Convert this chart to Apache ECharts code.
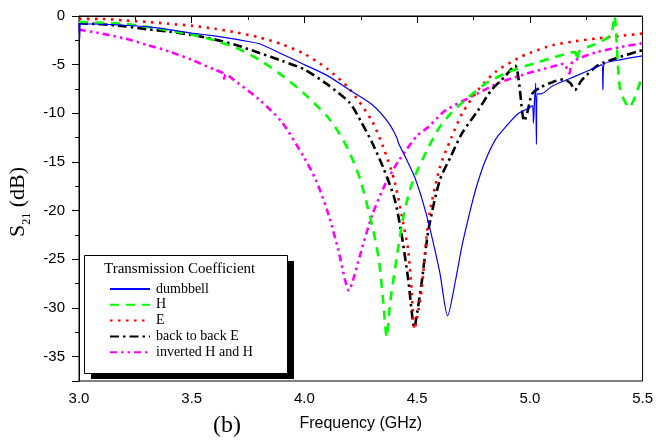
<!DOCTYPE html>
<html><head><meta charset="utf-8">
<script src="https://cdn.jsdelivr.net/npm/echarts@6/dist/echarts.min.js"></script>
<style>html,body{margin:0;padding:0;background:#fff}#c{width:656px;height:440px}</style>
</head><body><div id="c"></div>
<script>
const seriesNames = ['dumbbell', 'H', 'E', 'back to back E', 'inverted H and H'];
const xTicks = [3.0, 3.5, 4.0, 4.5, 5.0, 5.5];

const dumbbellF = [3.0,3.003,3.006,3.1,3.2,3.3,3.4,3.5,3.6,3.7,3.72,3.8,3.9,4.0,4.1,4.2,4.3,4.374,4.41,4.418,4.45,4.49,4.54,4.6,4.635,4.67,4.7,4.73,4.76,4.8,4.85,4.9,4.95,5.0,5.012,5.016,5.02,5.026,5.029,5.033,5.05,5.1,5.2,5.3,5.32,5.324,5.328,5.4,5.5];
const dumbbellDB = [-0.75,-2.4,-0.8,-0.85,-0.95,-1.1,-1.4,-1.75,-2.05,-2.4,-2.5,-2.85,-3.9,-5.0,-6.1,-7.6,-9.1,-11.0,-12.5,-13.1,-14.6,-16.6,-20.3,-26.3,-30.8,-27.2,-23.5,-20.5,-17.8,-15.0,-12.6,-11.2,-10.0,-9.4,-9.2,-11.0,-9.0,-6.9,-13.2,-8.0,-8.0,-7.2,-6.2,-5.2,-5.0,-7.6,-5.0,-4.5,-4.1];

const hF = [3.0,3.1,3.2,3.3,3.4,3.5,3.6,3.7,3.8,3.9,4.0,4.1,4.15,4.2,4.25,4.3,4.33,4.35,4.365,4.38,4.41,4.44,4.48,4.55,4.6,4.65,4.7,4.8,4.9,5.0,5.1,5.2,5.21,5.22,5.3,5.36,5.375,5.4,5.44,5.5];
const hDB = [-0.6,-0.7,-0.8,-1.1,-1.5,-1.9,-2.5,-3.3,-4.5,-6.1,-8.0,-10.3,-11.9,-14.0,-17.0,-21.5,-25.0,-29.5,-33.0,-29.5,-24.7,-20.5,-17.0,-13.5,-11.4,-10.0,-8.9,-7.0,-5.8,-5.0,-4.3,-3.7,-4.6,-3.6,-2.8,-1.9,0,-7.5,-9.4,-6.0];

const eF = [3.0,3.1,3.2,3.3,3.4,3.5,3.6,3.7,3.8,3.9,4.0,4.1,4.2,4.3,4.35,4.4,4.44,4.46,4.475,4.488,4.5,4.52,4.55,4.6,4.65,4.7,4.77,4.85,4.95,5.0,5.1,5.2,5.3,5.4,5.5];
const eDB = [-0.3,-0.3,-0.45,-0.6,-0.8,-1.0,-1.3,-1.7,-2.2,-2.9,-3.9,-5.4,-7.5,-10.8,-13.5,-17.0,-21.5,-24.0,-28.0,-32.2,-31.0,-28.1,-21.0,-15.6,-12.6,-10.0,-7.6,-5.7,-4.3,-3.8,-3.0,-2.6,-2.3,-2.05,-1.8];

const b2bF = [3.0,3.1,3.2,3.3,3.4,3.5,3.6,3.7,3.8,3.9,4.0,4.1,4.2,4.25,4.3,4.35,4.4,4.43,4.46,4.488,4.5,4.52,4.55,4.6,4.65,4.7,4.77,4.83,4.89,4.935,4.95,4.975,4.99,5.01,5.05,5.1,5.15,5.18,5.2,5.23,5.3,5.4,5.5];
const b2bDB = [-0.75,-0.85,-1.05,-1.35,-1.6,-1.95,-2.4,-3.0,-3.8,-4.6,-5.5,-7.0,-8.9,-10.8,-13.0,-15.6,-18.8,-22.3,-27.0,-32.0,-30.5,-27.4,-22.0,-16.9,-14.4,-12.0,-9.7,-7.6,-6.2,-5.1,-6.5,-10.8,-9.8,-8.0,-7.3,-6.8,-6.5,-6.9,-7.6,-6.6,-5.1,-4.2,-3.5];

const invF = [3.0,3.1,3.2,3.3,3.4,3.5,3.6,3.64,3.645,3.65,3.7,3.8,3.9,4.0,4.05,4.1,4.15,4.18,4.197,4.22,4.25,4.3,4.36,4.42,4.5,4.55,4.625,4.74,4.86,4.96,5.02,5.1,5.15,5.175,5.19,5.3,5.4,5.5];
const invDB = [-1.4,-1.8,-2.3,-2.95,-3.65,-4.5,-5.5,-5.9,-6.6,-6.0,-6.8,-8.6,-10.9,-14.6,-16.8,-19.9,-24.0,-27.1,-28.2,-26.8,-24.3,-20.5,-17.2,-14.8,-12.3,-11.4,-9.7,-8.3,-6.9,-6.1,-5.7,-5.2,-4.9,-5.9,-4.7,-3.7,-3.2,-2.8];

const pairs = (f, d) => f.map((x, i) => [x, d[i]]);
const colors = ['#0000ff', '#00ff00', '#ff0000', '#000000', '#ff00ff'];
const styles = [
  {width: 1.2, type: 'solid'},
  {width: 2.6, type: [9, 7]},
  {width: 2.6, type: [2.5, 5.5]},
  {width: 2.6, type: [9, 4, 2.5, 4]},
  {width: 2.6, type: [7, 4, 2.5, 4, 2.5, 4]}
];
const dataSets = [pairs(dumbbellF, dumbbellDB), pairs(hF, hDB), pairs(eF, eDB), pairs(b2bF, b2bDB), pairs(invF, invDB)];

const chart = echarts.init(document.getElementById('c'), null, {renderer: 'canvas'});
const sans = 'Liberation Sans, Arial, sans-serif';
const serif = 'Liberation Serif, Times New Roman, serif';

chart.setOption({
  animation: false,
  grid: {left: 79, right: 11, top: 16, bottom: 59, show: true, borderColor: '#000', borderWidth: 1, backgroundColor: 'transparent'},
  xAxis: {
    type: 'value', min: 3.0, max: 5.5, interval: 0.5,
    axisLine: {show: true, lineStyle: {color: '#000', width: 1}},
    axisTick: {show: true, length: 7, lineStyle: {color: '#000'}},
    minorTick: {show: true, splitNumber: 2, length: 4, lineStyle: {color: '#000'}},
    splitLine: {show: false},
    axisLabel: {color: '#000', fontFamily: sans, fontSize: 15, margin: 10, formatter: v => v.toFixed(1)},
    name: 'Frequency (GHz)', nameLocation: 'middle', nameGap: 35,
    nameTextStyle: {color: '#000', fontFamily: sans, fontSize: 16}
  },
  yAxis: [{
    type: 'value', min: -37.5, max: 0, interval: 2.5,
    axisLine: {show: true, lineStyle: {color: '#000', width: 1}},
    axisTick: {show: true, length: 4, lineStyle: {color: '#000'}},
    splitLine: {show: false},
    axisLabel: {show: false}
  }, {
    type: 'value', min: 0, max: 37.5, interval: 5, inverse: true, position: 'left', offset: 0,
    axisLine: {show: false},
    axisTick: {show: true, length: 7, lineStyle: {color: '#000'}},
    splitLine: {show: false},
    axisLabel: {color: '#000', fontFamily: sans, fontSize: 15, margin: 14,
      formatter: v => v > 36 ? '' : (v === 0 ? '0' : '-' + v)}
  }],
  legend: {
    orient: 'vertical', left: 104, top: 277, itemWidth: 40, itemHeight: 10, itemGap: 1.8,
    data: seriesNames, z: 20,
    itemStyle: {opacity: 0},
    textStyle: {fontFamily: serif, fontSize: 14, lineHeight: 14, color: '#000', padding: [0, 0, 0, 1]},
    selectedMode: false
  },
  graphic: [
    {type: 'rect', z: 10, shape: {x: 91, y: 261, width: 203, height: 118}, style: {fill: '#000'}},
    {type: 'rect', z: 11, shape: {x: 84.5, y: 255.5, width: 203, height: 118}, style: {fill: '#fff', stroke: '#000', lineWidth: 1}},
    {type: 'text', z: 12, left: 104, top: 262, style: {text: 'Transmission Coefficient', font: '15px ' + serif, fill: '#000'}},
    {type: 'text', z: 12, x: 18, y: 202, rotation: Math.PI / 2,
      style: {text: '{s|S}{sub|21}{s| (dB)}', align: 'center', verticalAlign: 'middle',
        rich: {s: {fontFamily: serif, fontSize: 22, lineHeight: 30, fill: '#000'},
               sub: {fontFamily: serif, fontSize: 12, lineHeight: 30, verticalAlign: 'bottom', fill: '#000'}}}},
    {type: 'text', z: 12, x: 227, y: 426, style: {text: '(b)', font: '24px ' + serif, fill: '#000', align: 'center', verticalAlign: 'middle'}}
  ],
  series: dataSets.map((d, i) => ({
    name: seriesNames[i], type: 'line', data: d, yAxisIndex: 0,
    symbol: 'none', showSymbol: false, smooth: 0.25,
    color: colors[i],
    lineStyle: {color: colors[i], width: styles[i].width, type: styles[i].type},
    z: 2 + (4 - i)
  }))
});
</script></body></html>
